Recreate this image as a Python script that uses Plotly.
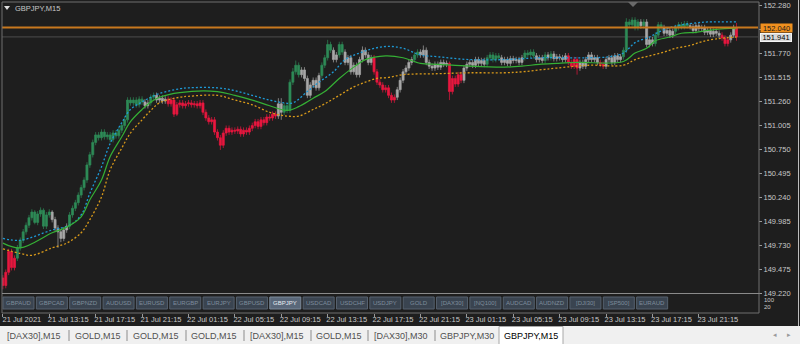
import plotly.graph_objects as go

# ---------------- data ----------------
close = [
149.30,149.44,149.66,149.49,149.59,149.70,149.78,149.87,149.94,150.02,
150.08,149.97,150.06,150.10,149.93,150.05,150.08,150.00,149.91,149.87,
149.80,149.89,149.93,150.05,150.12,150.18,150.26,150.34,150.42,150.58,
150.69,150.82,150.90,150.87,150.93,150.88,150.90,150.85,150.92,150.89,
150.95,151.00,151.06,151.27,151.24,151.27,151.22,151.28,151.25,151.21,
151.24,151.30,151.32,151.27,151.29,151.26,151.28,151.23,151.27,151.12,
151.22,151.24,151.21,151.23,151.24,151.22,151.23,151.21,151.24,151.14,
151.08,151.04,151.06,150.93,150.87,150.79,150.92,150.97,150.93,150.95,
150.94,150.96,150.91,150.95,150.93,150.97,151.00,151.04,150.99,151.06,
151.03,151.09,151.08,151.12,151.10,151.23,151.14,151.21,151.16,151.46,
151.57,151.64,151.54,151.59,151.50,151.32,151.43,151.48,151.40,151.53,
151.64,151.72,151.86,151.80,151.70,151.75,151.86,151.78,151.67,151.72,
151.57,151.64,151.54,151.70,151.80,151.75,151.67,151.72,151.57,151.46,
151.43,151.38,151.40,151.32,151.27,151.30,151.38,151.48,151.57,151.61,
151.67,151.70,151.75,151.78,151.75,151.80,151.67,151.63,151.61,151.65,
151.62,151.67,151.65,151.66,151.36,151.50,151.44,151.54,151.48,151.61,
151.65,151.67,151.64,151.70,151.66,151.69,151.65,151.72,151.75,151.70,
151.74,151.72,151.67,151.70,151.66,151.71,151.69,151.70,151.67,151.72,
151.77,151.75,151.78,151.74,151.70,151.72,151.69,151.75,151.72,151.76,
151.71,151.73,151.72,151.70,151.74,151.67,151.63,151.70,151.61,151.67,
151.63,151.70,151.75,151.70,151.72,151.67,151.65,151.63,151.70,151.72,
151.67,151.74,151.70,151.73,151.80,152.10,152.07,152.12,152.04,152.10,
152.06,152.10,151.86,151.91,151.87,151.96,152.07,152.04,151.98,152.01,
151.96,152.00,152.04,152.07,152.05,152.08,152.06,152.05,152.01,152.06,
152.03,152.04,151.99,152.01,151.97,152.00,151.98,151.96,151.93,151.87,
151.91,151.96,152.04,151.94]

open_ = [
149.38,149.30,149.44,149.66,149.49,149.59,149.70,149.78,149.87,149.94,
150.02,150.08,149.97,150.06,150.10,149.93,150.05,150.08,150.00,149.91,
149.87,149.80,149.89,149.93,150.05,150.12,150.18,150.26,150.34,150.42,
150.58,150.69,150.82,150.90,150.87,150.93,150.88,150.90,150.85,150.92,
150.89,150.95,151.00,151.06,151.27,151.24,151.27,151.22,151.28,151.25,
151.21,151.24,151.30,151.32,151.27,151.29,151.26,151.28,151.23,151.27,
151.12,151.22,151.24,151.21,151.23,151.24,151.22,151.23,151.21,151.24,
151.14,151.08,151.04,151.06,150.93,150.87,150.79,150.92,150.97,150.93,
150.95,150.94,150.96,150.91,150.95,150.93,150.97,151.00,151.04,150.99,
151.06,151.03,151.09,151.08,151.12,151.10,151.23,151.14,151.21,151.16,
151.46,151.57,151.64,151.54,151.59,151.50,151.32,151.43,151.48,151.40,
151.53,151.64,151.72,151.86,151.80,151.70,151.75,151.86,151.78,151.67,
151.72,151.57,151.64,151.54,151.70,151.80,151.75,151.67,151.72,151.57,
151.46,151.43,151.38,151.40,151.32,151.27,151.30,151.38,151.48,151.57,
151.61,151.67,151.70,151.75,151.78,151.75,151.80,151.67,151.63,151.61,
151.65,151.62,151.67,151.65,151.66,151.36,151.50,151.44,151.54,151.48,
151.61,151.65,151.67,151.64,151.70,151.66,151.69,151.65,151.72,151.75,
151.70,151.74,151.72,151.67,151.70,151.66,151.71,151.69,151.70,151.67,
151.72,151.77,151.75,151.78,151.74,151.70,151.72,151.69,151.75,151.72,
151.76,151.71,151.73,151.72,151.70,151.74,151.67,151.63,151.70,151.61,
151.67,151.63,151.70,151.75,151.70,151.72,151.67,151.65,151.63,151.70,
151.72,151.67,151.74,151.70,151.73,151.80,152.10,152.07,152.12,152.04,
152.10,152.06,152.10,151.86,151.91,151.87,151.96,152.07,152.04,151.98,
152.01,151.96,152.00,152.04,152.07,152.05,152.08,152.06,152.05,152.01,
152.06,152.03,152.04,151.99,152.01,151.97,152.00,151.98,151.96,151.93,
151.87,151.91,151.96,152.04]

high = [
149.41,149.47,149.69,149.69,149.62,149.73,149.81,149.90,149.97,150.05,
150.11,150.10,150.09,150.13,150.12,150.08,150.11,150.10,150.03,149.94,
149.90,149.92,149.96,150.08,150.15,150.21,150.29,150.37,150.45,150.61,
150.72,150.85,150.93,150.93,150.96,150.96,150.93,150.93,150.95,150.95,
150.98,151.03,151.09,151.30,151.30,151.30,151.30,151.31,151.31,151.28,
151.27,151.33,151.35,151.35,151.32,151.32,151.31,151.31,151.30,151.30,
151.25,151.27,151.27,151.26,151.27,151.27,151.26,151.26,151.27,151.27,
151.17,151.11,151.09,151.09,150.96,150.90,150.95,151.00,151.00,150.98,
150.98,150.99,150.99,150.98,150.98,151.00,151.03,151.07,151.07,151.09,
151.09,151.12,151.12,151.15,151.15,151.29,151.29,151.24,151.24,151.49,
151.61,151.69,151.67,151.62,151.62,151.53,151.46,151.51,151.51,151.56,
151.67,151.75,151.91,151.89,151.83,151.78,151.89,151.89,151.81,151.75,
151.75,151.67,151.67,151.73,151.84,151.83,151.78,151.75,151.75,151.60,
151.49,151.46,151.43,151.43,151.35,151.33,151.41,151.51,151.60,151.64,
151.70,151.73,151.78,151.81,151.81,151.85,151.83,151.70,151.66,151.68,
151.68,151.70,151.70,151.69,151.68,151.53,151.53,151.57,151.57,151.64,
151.68,151.70,151.70,151.73,151.73,151.72,151.72,151.75,151.78,151.78,
151.77,151.77,151.75,151.73,151.73,151.74,151.74,151.73,151.73,151.75,
151.80,151.80,151.81,151.81,151.77,151.75,151.75,151.78,151.78,151.79,
151.79,151.76,151.76,151.75,151.77,151.77,151.70,151.73,151.73,151.70,
151.70,151.73,151.78,151.78,151.75,151.75,151.70,151.68,151.73,151.75,
151.75,151.77,151.77,151.76,151.83,152.14,152.13,152.15,152.15,152.13,
152.13,152.13,152.13,151.94,151.94,151.99,152.10,152.10,152.07,152.04,
152.04,152.03,152.07,152.10,152.10,152.11,152.11,152.09,152.08,152.09,
152.09,152.07,152.07,152.04,152.04,152.03,152.03,152.01,151.99,151.96,
151.94,151.99,152.07,152.09]

low = [
149.26,149.27,149.41,149.46,149.46,149.56,149.67,149.75,149.84,149.91,
149.99,149.95,149.94,150.03,149.90,149.90,150.02,149.97,149.88,149.70,
149.76,149.77,149.86,149.90,150.02,150.09,150.15,150.23,150.31,150.39,
150.55,150.66,150.79,150.84,150.84,150.85,150.85,150.82,150.82,150.86,
150.86,150.92,150.97,151.03,151.21,151.21,151.19,151.19,151.22,151.18,
151.18,151.21,151.27,151.24,151.24,151.23,151.23,151.20,151.20,151.09,
151.10,151.19,151.18,151.18,151.20,151.19,151.19,151.18,151.18,151.11,
151.05,151.01,151.01,150.90,150.84,150.74,150.76,150.89,150.90,150.90,
150.91,150.91,150.88,150.88,150.90,150.90,150.94,150.97,150.96,150.96,
151.00,151.00,151.05,151.05,151.07,151.07,151.06,151.11,151.13,151.13,
151.43,151.54,151.51,151.51,151.47,151.29,151.29,151.40,151.37,151.37,
151.50,151.61,151.69,151.77,151.67,151.67,151.72,151.75,151.64,151.64,
151.54,151.54,151.51,151.51,151.67,151.72,151.64,151.64,151.54,151.43,
151.40,151.35,151.35,151.29,151.24,151.24,151.27,151.35,151.45,151.54,
151.58,151.64,151.67,151.72,151.72,151.72,151.64,151.60,151.58,151.58,
151.59,151.59,151.62,151.62,151.27,151.33,151.41,151.41,151.45,151.45,
151.58,151.62,151.61,151.61,151.63,151.63,151.62,151.62,151.69,151.67,
151.67,151.69,151.64,151.64,151.63,151.63,151.66,151.66,151.64,151.64,
151.69,151.72,151.72,151.71,151.67,151.67,151.66,151.66,151.69,151.69,
151.68,151.68,151.69,151.67,151.67,151.64,151.60,151.60,151.54,151.58,
151.60,151.60,151.67,151.67,151.67,151.64,151.62,151.60,151.60,151.67,
151.64,151.64,151.67,151.67,151.70,151.77,152.04,152.04,152.01,152.01,
152.03,152.03,151.83,151.83,151.84,151.84,151.93,152.01,151.95,151.95,
151.93,151.93,151.97,152.01,152.02,152.02,152.03,152.02,151.98,151.98,
152.00,152.00,151.96,151.96,151.94,151.94,151.95,151.93,151.90,151.84,
151.84,151.88,151.93,151.90]

# candle colour state runs: G = above band (green), R = below (red), N = neutral (grey)
colour_runs = [("R",5),("G",12),("N",6),("G",26),("N",2),("G",2),("N",4),("R",38),
               ("N",2),("G",6),("N",7),("G",4),("N",2),("G",2),("N",10),("R",8),
               ("N",6),("G",2),("N",10),("R",5),("N",8),("G",5),("N",8),("G",4),
               ("N",3),("G",1),("N",1),("G",1),("N",5),("R",4),("N",7),("R",2),
               ("N",6),("G",6),("N",1),("G",1),("N",3),("G",3),("N",4),("G",5),
               ("N",11),("R",3),("N",2),("R",1)]

ma_bars = [0,6,17,22,27,30,34,37,41,44,48,51,54,61,74,80,86,92,98,102,107,111,116,121,125,
           132,138,144,150,161,173,179,185,191,198,214,218,222,225,230,234,239,243,249,253]
ma_vals = [149.75,149.70,149.86,149.92,150.03,150.21,150.42,150.67,150.88,151.04,151.17,151.25,
           151.30,151.35,151.36,151.32,151.27,151.21,151.16,151.20,151.29,151.36,151.50,151.62,
           151.70,151.74,151.72,151.66,151.65,151.63,151.62,151.63,151.65,151.66,151.67,151.68,
           151.77,151.82,151.90,151.94,151.98,151.99,152.01,152.03,152.03]

up_bars = [0,6,17,23,27,30,34,37,41,44,48,51,54,61,64,74,80,86,92,97,100,105,109,114,118,123,
           128,133,138,144,150,161,173,179,185,191,202,209,214,218,223,226,230,234,239,243,253]
up_vals = [149.80,149.78,149.89,149.94,150.05,150.28,150.56,150.81,151.03,151.17,151.25,151.30,
           151.34,151.39,151.40,151.40,151.37,151.32,151.27,151.24,151.24,151.36,151.46,151.57,
           151.70,151.77,151.82,151.84,151.82,151.75,151.73,151.70,151.70,151.71,151.72,151.72,
           151.72,151.73,151.77,151.88,151.94,151.99,152.04,152.07,152.09,152.10,152.10]

lo_bars = [0,6,10,17,22,27,30,34,37,41,44,48,51,54,61,64,74,80,86,92,98,102,107,111,116,121,
           125,129,133,138,150,161,173,179,185,191,202,214,218,223,228,232,237,241,246,253]
lo_vals = [149.69,149.64,149.62,149.70,149.75,149.86,150.00,150.24,150.53,150.76,150.92,151.06,
           151.16,151.24,151.30,151.31,151.32,151.27,151.22,151.14,151.10,151.10,151.17,151.23,
           151.32,151.41,151.46,151.50,151.51,151.54,151.55,151.56,151.56,151.57,151.59,151.61,
           151.64,151.64,151.70,151.74,151.78,151.82,151.85,151.89,151.92,151.94]

time_tick_bars = [0,16,32,48,64,80,96,112,128,144,160,176,192,208,224,240]
time_tick_labels = ["21 Jul 2021","21 Jul 13:15","21 Jul 17:15","21 Jul 21:15",
                    "22 Jul 01:15","22 Jul 05:15","22 Jul 09:15","22 Jul 13:15",
                    "22 Jul 17:15","22 Jul 21:15","23 Jul 01:15","23 Jul 05:15",
                    "23 Jul 09:15","23 Jul 13:15","23 Jul 17:15","23 Jul 21:15"]

price_ticks = [152.280,152.025,151.770,151.515,151.260,151.005,150.750,
               150.495,150.240,149.985,149.730,149.475,149.220]
# the 152.025 label is hidden under the price box in the reference
price_tick_labels = ["152.280","","151.770","151.515","151.260","151.005","150.750",
                     "150.495","150.240","149.985","149.730","149.475","149.220"]

alert_level = 152.040
bid_price = 151.941
chart_title = "GBPJPY,M15"
symbol_buttons = ["GBPAUD","GBPCAD","GBPNZD","AUDUSD","EURUSD","EURGBP","EURJPY","GBPUSD",
                  "GBPJPY","USDCAD","USDCHF","USDJPY","GOLD","[DAX30]","[NQ100]","AUDCAD",
                  "AUDNZD","[DJI30]","[SP500]","EURAUD"]
active_symbol = "GBPJPY"
tab_labels = ["[DAX30],M15","GOLD,M15","GOLD,M15","GOLD,M15","[DAX30],M15","GOLD,M15",
              "[DAX30],M30","GBPJPY,M30","GBPJPY,M15"]
active_tab = 8
sub_labels = ["100","20"]

# ---------------- geometry helpers (pixel -> paper) ----------------
W, H = 800, 344
PL, PR, PT, PB = 2, 758, 2, 313
def fx(px):
    return (px - PL) / (PR - PL)
def fy(py):
    return (PB - py) / (PB - PT)

BG = "#1e1e1e"
COL = {"G": "#2e8b57", "R": "#e8173f", "N": "#a8a8a8"}
FONT = "Liberation Sans"

states = []
for s, n in colour_runs:
    states += [s] * n

fig = go.Figure()
for s in ["N", "G", "R"]:
    idx = [i for i in range(len(close)) if states[i] == s]
    c = COL[s]
    fig.add_trace(go.Candlestick(
        x=idx,
        open=[open_[i] for i in idx], high=[high[i] for i in idx],
        low=[low[i] for i in idx], close=[close[i] for i in idx],
        increasing=dict(line=dict(color=c, width=0.7), fillcolor=c),
        decreasing=dict(line=dict(color=c, width=0.7), fillcolor=c),
        whiskerwidth=0, showlegend=False, hoverinfo="skip"))

fig.add_trace(go.Scatter(x=up_bars, y=up_vals, mode="lines", showlegend=False, hoverinfo="skip",
                         line=dict(color="#1e9ad6", width=1.3, dash="2px,2px", shape="spline", smoothing=1)))
fig.add_trace(go.Scatter(x=lo_bars, y=lo_vals, mode="lines", showlegend=False, hoverinfo="skip",
                         line=dict(color="#d99a1a", width=1.3, dash="2px,2px", shape="spline", smoothing=1)))
fig.add_trace(go.Scatter(x=ma_bars, y=ma_vals, mode="lines", showlegend=False, hoverinfo="skip",
                         line=dict(color="#35b035", width=1.2, shape="spline", smoothing=1)))

shapes = []
annotations = []

# alert line and bid line
shapes.append(dict(type="line", xref="paper", yref="y", x0=0, x1=1, y0=alert_level, y1=alert_level,
                   line=dict(color="#c8781e", width=2), layer="above"))
shapes.append(dict(type="line", xref="paper", yref="y", x0=0, x1=1, y0=bid_price, y1=bid_price,
                   line=dict(color="#4c4c4c", width=1), layer="below"))

# frames
shapes.append(dict(type="rect", xref="paper", yref="paper", x0=fx(2), x1=fx(759), y0=fy(2), y1=fy(313),
                   line=dict(color="#6e6e6e", width=1), layer="above"))
shapes.append(dict(type="line", xref="paper", yref="paper", x0=fx(2), x1=fx(759), y0=fy(293.5), y1=fy(293.5),
                   line=dict(color="#8a8a8a", width=1), layer="above"))
shapes.append(dict(type="line", xref="paper", yref="paper", x0=fx(798.5), x1=fx(798.5), y0=fy(0), y1=fy(326),
                   line=dict(color="#bdbdbd", width=1), layer="above"))

# top markers
shapes.append(dict(type="path", xref="paper", yref="paper",
                   path=f"M {fx(4)} {fy(6)} L {fx(10)} {fy(6)} L {fx(7)} {fy(10)} Z",
                   fillcolor="#e0e0e0", line=dict(width=0), layer="above"))
shapes.append(dict(type="path", xref="paper", yref="paper",
                   path=f"M {fx(628)} {fy(2)} L {fx(638)} {fy(2)} L {fx(633)} {fy(7)} Z",
                   fillcolor="#6a6a6a", line=dict(width=0), layer="above"))
annotations.append(dict(text=chart_title, xref="paper", yref="paper", x=fx(13), y=fy(8.5),
                        xanchor="left", yanchor="middle", showarrow=False,
                        font=dict(family=FONT, size=7.5, color="#c8c8c8")))

# price boxes
annotations.append(dict(text=f"{alert_level:.3f}", xref="paper", yref="y", x=fx(760), y=alert_level,
                        xanchor="left", yanchor="middle", showarrow=False, width=31, height=8,
                        bgcolor="#f0901e", borderpad=0,
                        font=dict(family=FONT, size=7.5, color="#1a1a1a")))
annotations.append(dict(text=f"{bid_price:.3f}", xref="paper", yref="y", x=fx(760), y=bid_price - 0.005,
                        xanchor="left", yanchor="middle", showarrow=False, width=30, height=7,
                        bgcolor="#d8d8d8", bordercolor="#f4f4f4", borderwidth=1, borderpad=0,
                        font=dict(family=FONT, size=7.5, color="#000000")))

# symbol buttons in the sub window
for k, name in enumerate(symbol_buttons):
    x0 = 3 + 33.35 * k
    act = name == active_symbol
    shapes.append(dict(type="rect", xref="paper", yref="paper", x0=fx(x0), x1=fx(x0 + 31),
                       y0=fy(297), y1=fy(309),
                       fillcolor="#5a687a" if act else "#3a4450",
                       line=dict(color="#7d8b9b" if act else "#56616e", width=1), layer="above"))
    annotations.append(dict(text=name, xref="paper", yref="paper", x=fx(x0 + 15.5), y=fy(303),
                            xanchor="center", yanchor="middle", showarrow=False,
                            font=dict(family=FONT, size=6, color="#e6ecf2" if act else "#7e8c9c")))
for lab, py in zip(sub_labels, [300, 306.5]):
    annotations.append(dict(text=lab, xref="paper", yref="paper", x=fx(762), y=fy(py),
                            xanchor="left", yanchor="middle", showarrow=False,
                            font=dict(family=FONT, size=6, color="#c8c8c8")))

# tab strip
shapes.append(dict(type="rect", xref="paper", yref="paper", x0=fx(0), x1=fx(800), y0=fy(326), y1=fy(344),
                   fillcolor="#f0f0f0", line=dict(width=0), layer="above"))
shapes.append(dict(type="rect", xref="paper", yref="paper", x0=fx(499), x1=fx(563), y0=fy(326.5), y1=fy(345),
                   fillcolor="#ffffff", line=dict(color="#a8a8a8", width=1), layer="above"))
tab_centers = [33.5, 97.5, 156, 214, 277, 339, 401, 466.5, 531]
for j, (lab, cx) in enumerate(zip(tab_labels, tab_centers)):
    annotations.append(dict(text=lab, xref="paper", yref="paper", x=fx(cx), y=fy(335.5),
                            xanchor="center", yanchor="middle", showarrow=False,
                            font=dict(family=FONT, size=9, color="#000000" if j == active_tab else "#505050")))
for sx in [69, 127, 186, 244, 311, 368, 435]:
    shapes.append(dict(type="line", xref="paper", yref="paper", x0=fx(sx), x1=fx(sx), y0=fy(330), y1=fy(341),
                       line=dict(color="#8c8c8c", width=1), layer="above"))
for txt, cx in [("\u25c2", 775), ("\u25b8", 789)]:
    annotations.append(dict(text=txt, xref="paper", yref="paper", x=fx(cx), y=fy(334.5),
                            xanchor="center", yanchor="middle", showarrow=False,
                            font=dict(family="DejaVu Sans", size=7, color="#9a9a9a")))

fig.update_layout(
    width=W, height=H,
    margin=dict(l=PL, r=W - PR, t=PT, b=H - PB, pad=0),
    paper_bgcolor=BG, plot_bgcolor=BG,
    boxgap=0.25, boxgroupgap=0.05,
    shapes=shapes, annotations=annotations,
    xaxis=dict(range=[-0.3, 260.4], showgrid=False, zeroline=False, showline=False,
               rangeslider=dict(visible=False), fixedrange=True,
               tickmode="array", tickvals=time_tick_bars, ticktext=time_tick_labels,
               ticks="outside", ticklen=3, tickcolor="#9a9a9a", tickwidth=1,
               ticklabelshift=19,
               tickfont=dict(family=FONT, size=7.5, color="#c8c8c8")),
    yaxis=dict(range=[149.0075, 152.312], side="right", showgrid=False, zeroline=False,
               showline=False, fixedrange=True,
               tickmode="array", tickvals=price_ticks, ticktext=price_tick_labels,
               ticks="outside", ticklen=3, tickcolor="#9a9a9a", tickwidth=1,
               tickfont=dict(family=FONT, size=7.5, color="#c8c8c8")),
)
try:
    fig.update_layout(xaxis_ticklabelstandoff=-4)
except Exception:
    pass

fig.write_html("out.html")
